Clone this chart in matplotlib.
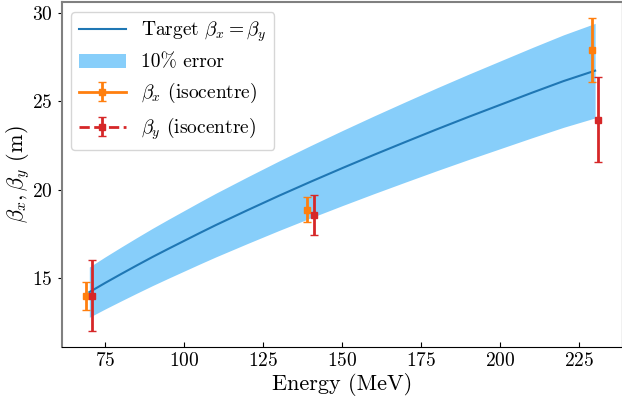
import matplotlib
matplotlib.use("Agg")
import matplotlib.pyplot as plt
import numpy as np

plt.rcParams["font.family"] = "serif"
plt.rcParams["font.serif"] = ["cmr10", "DejaVu Serif"]
plt.rcParams["mathtext.fontset"] = "cm"
plt.rcParams["axes.formatter.use_mathtext"] = True

# target beta
energy_target = [70, 75, 80, 85, 90, 95, 100, 105, 110, 120, 130, 140, 150, 160, 170, 180, 190, 200, 210, 220, 230]
beta_target = [14.2, 14.72, 15.22, 15.71, 16.19, 16.65, 17.1, 17.55, 17.99, 18.83, 19.65, 20.44, 21.21,
               21.96, 22.69, 23.41, 24.11, 24.79, 25.47, 26.13, 26.72]

# measured at isocentre
energy_x = [69, 139, 229]
beta_x = [14.0, 18.87, 27.9]
beta_x_err = [0.8, 0.73, 1.8]

energy_y = [71, 141, 231]
beta_y = [14.0, 18.55, 23.95]
beta_y_err = [2.0, 1.13, 2.39]

fig = plt.figure(figsize=(6.22, 4.01), dpi=100)
ax = fig.add_axes([61.5 / 622, 54 / 401, 1 - 61.5 / 622, 345 / 401])

target = np.asarray(beta_target)
ax.fill_between(energy_target, 0.9 * target, 1.1 * target, color="lightskyblue", lw=0, label="10% error")
ax.plot(energy_target, beta_target, color="tab:blue", lw=1.5, label=r"Target $\beta_x = \beta_y$")

for i in range(len(energy_x)):
    ax.errorbar(energy_x[i], beta_x[i], yerr=beta_x_err[i], fmt="s-", color="tab:orange", ms=5,
                capsize=3, elinewidth=2, lw=2, label=r"$\beta_x$ (isocentre)" if i == 0 else None)
for i in range(len(energy_y)):
    ax.errorbar(energy_y[i], beta_y[i], yerr=beta_y_err[i], fmt="s--", color="tab:red", ms=5,
                capsize=3, elinewidth=2, lw=2, label=r"$\beta_y$ (isocentre)" if i == 0 else None)

ax.set_xlim(61.2, 238.5)
ax.set_ylim(11.1, 30.6)
ax.set_xticks([75, 100, 125, 150, 175, 200, 225])
ax.set_yticks([15, 20, 25, 30])
ax.tick_params(axis="x", direction="in", labelsize=14)
ax.tick_params(axis="y", direction="out", labelsize=14, length=3)
ax.spines["left"].set_color("gray")
ax.spines["top"].set_color("gray")
ax.spines["left"].set_linewidth(1.5)
ax.spines["top"].set_linewidth(1.5)
ax.set_xlabel("Energy (MeV)", fontsize=16, labelpad=2)
ax.set_ylabel(r"$\beta_x, \beta_y$ (m)", fontsize=16, labelpad=0)

handles, labels = ax.get_legend_handles_labels()
order = [labels.index(r"Target $\beta_x = \beta_y$"), labels.index("10% error"),
         labels.index(r"$\beta_x$ (isocentre)"), labels.index(r"$\beta_y$ (isocentre)")]
ax.legend([handles[k] for k in order], [labels[k] for k in order], loc="upper left", fontsize=14,
          handlelength=2.4)

fig.savefig("out.png", dpi=100)
